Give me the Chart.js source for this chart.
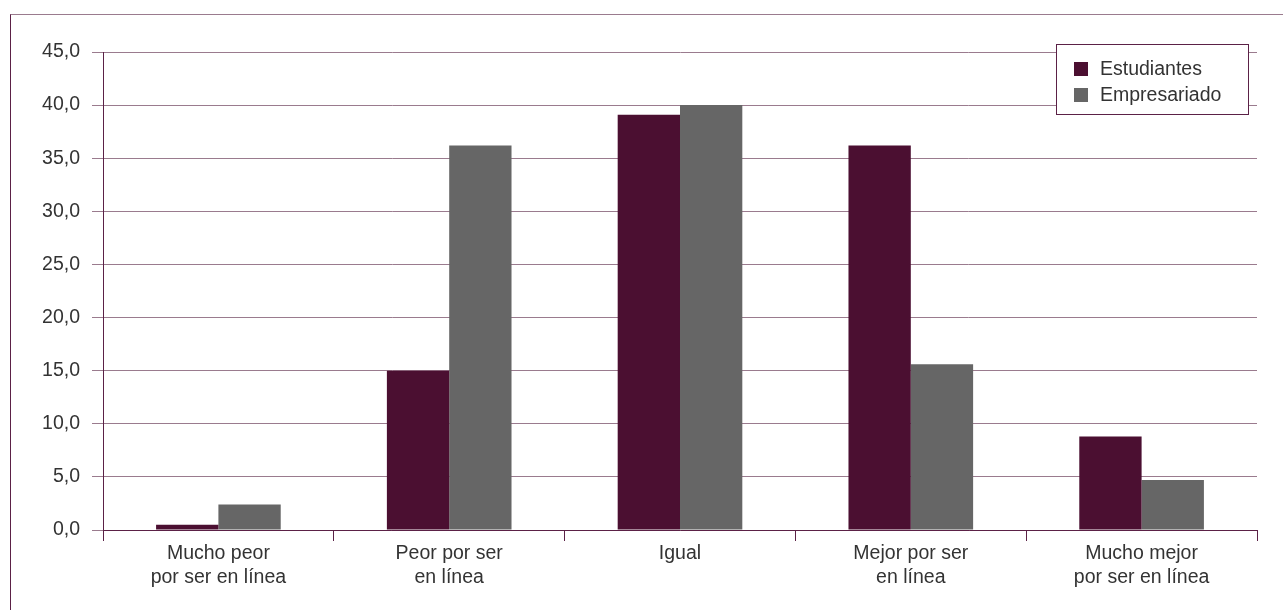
<!DOCTYPE html>
<html>
<head>
<meta charset="utf-8">
<script src="https://cdn.jsdelivr.net/npm/chart.js@4"></script>
<style>
    html, body { margin: 0; padding: 0; background: #fff; }
    #wrap { position: relative; width: 1283px; height: 610px; overflow: hidden; }
    #frame {
        position: absolute; left: 10px; top: 14px; width: 1400px; height: 700px;
        border-top: 1px solid #9a7b8e; border-left: 1px solid #5b2146;
    }
    #chart { position: absolute; left: 0; top: 0; }
</style>
</head>
<body>
<div id="wrap">
    <div id="frame"></div>
    <canvas id="chart" width="1283" height="610"></canvas>
</div>
<script>
const categories = [
    ['Mucho peor', 'por ser en línea'],
    ['Peor por ser', 'en línea'],
    'Igual',
    ['Mejor por ser', 'en línea'],
    ['Mucho mejor', 'por ser en línea']
];
const estudiantes = [0.5, 15.0, 39.1, 36.2, 8.8];
const empresariado = [2.4, 36.2, 40.0, 15.6, 4.7];
const seriesNames = ['Estudiantes', 'Empresariado'];
const seriesColors = ['#4b0f31', '#666666'];

const FONT = '"Liberation Sans", Arial, sans-serif';
const FONT_SIZE = 19.5;
const TEXT = '#333333';
const GRID = '#9a7b8e';
const AXIS = '#5b2146';

// legend box drawn on top of the chart area
const boxLegend = {
    id: 'boxLegend',
    afterDraw(chart) {
        const ctx = chart.ctx;
        const x = 1056, y = 44, w = 192, h = 70;
        ctx.save();
        ctx.fillStyle = '#fff';
        ctx.fillRect(x, y, w, h);
        ctx.strokeStyle = AXIS;
        ctx.lineWidth = 1;
        ctx.strokeRect(x + 0.5, y + 0.5, w, h);
        ctx.font = FONT_SIZE + 'px ' + FONT;
        ctx.textBaseline = 'middle';
        chart.data.datasets.forEach((ds, i) => {
            const cy = y + 25 + i * 26;
            ctx.fillStyle = ds.backgroundColor;
            ctx.fillRect(x + 18, cy - 7, 14, 14);
            ctx.fillStyle = TEXT;
            ctx.fillText(ds.label, x + 44, cy + 1);
        });
        ctx.restore();
    }
};

new Chart(document.getElementById('chart'), {
    type: 'bar',
    data: {
        labels: categories,
        datasets: [
            { label: seriesNames[0], data: estudiantes, backgroundColor: seriesColors[0] },
            { label: seriesNames[1], data: empresariado, backgroundColor: seriesColors[1] }
        ]
    },
    options: {
        responsive: false,
        animation: false,
        layout: { padding: { left: 0, right: 26, top: 52, bottom: 0 } },
        datasets: { bar: { categoryPercentage: 0.54, barPercentage: 1.0 } },
        plugins: { legend: { display: false }, tooltip: { enabled: false } },
        scales: {
            x: {
                grid: { drawOnChartArea: false, drawTicks: true, tickLength: 11, color: AXIS },
                border: { color: AXIS, width: 1 },
                ticks: { color: TEXT, padding: 1, maxRotation: 0, font: { family: FONT, size: FONT_SIZE, lineHeight: 24 / FONT_SIZE } },
                afterFit(scale) { scale.height = 80; }
            },
            y: {
                min: 0,
                max: 45,
                grid: { color: GRID, tickLength: 11 },
                border: { color: AXIS, width: 1 },
                ticks: {
                    stepSize: 5,
                    padding: 12,
                    color: TEXT,
                    font: { family: FONT, size: FONT_SIZE },
                    callback: (v) => v.toFixed(1).replace('.', ',')
                },
                afterFit(scale) { scale.width = 103; }
            }
        }
    },
    plugins: [boxLegend]
});
</script>
</body>
</html>
